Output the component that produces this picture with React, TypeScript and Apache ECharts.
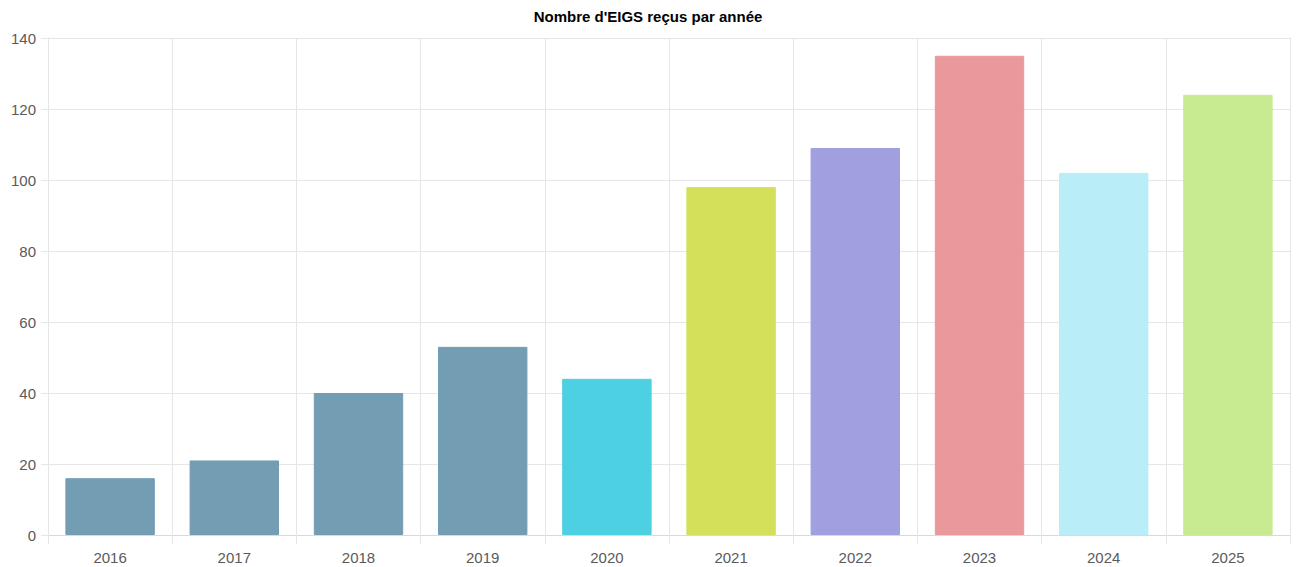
import React, { useEffect, useRef } from "react";
import * as echarts from "echarts";

const title = "Nombre d'EIGS reçus par année";
const years = ["2016", "2017", "2018", "2019", "2020", "2021", "2022", "2023", "2024", "2025"];
const counts = [16, 21, 40, 53, 44, 98, 109, 135, 102, 124];
const barColors = [
  "#739db3",
  "#739db3",
  "#739db3",
  "#739db3",
  "#4dd0e1",
  "#d4e05a",
  "#a09fdf",
  "#e9989b",
  "#b9edf7",
  "#c8eb91",
];

export default function App() {
  const ref = useRef<HTMLDivElement>(null);
  useEffect(() => {
    if (!ref.current) return;
    const chart = echarts.init(ref.current, undefined, { renderer: "svg" });
    const gridColor = "#e6e6e6";
    const font = "Liberation Sans, Arial, sans-serif";
    chart.setOption({
      animation: false,
      title: {
        text: title,
        left: "center",
        top: 4,
        textStyle: { fontFamily: font, fontSize: 15, fontWeight: "bold", color: "#000" },
      },
      grid: { left: 48, right: 6, top: 38, bottom: 32, containLabel: false },
      xAxis: {
        type: "category",
        data: years,
        boundaryGap: true,
        axisLine: { show: true, lineStyle: { color: "#d9d9d9", width: 1 } },
        axisTick: { show: true, length: 9, lineStyle: { color: gridColor } },
        splitLine: { show: true, lineStyle: { color: gridColor, width: 1 } },
        axisLabel: { color: "#5a5a5a", fontFamily: font, fontSize: 15, margin: 15 },
      },
      yAxis: {
        type: "value",
        min: 0,
        max: 140,
        interval: 20,
        axisLine: { show: true, lineStyle: { color: gridColor, width: 1 } },
        axisTick: { show: true, length: 7, lineStyle: { color: gridColor } },
        splitLine: { show: true, lineStyle: { color: gridColor, width: 1 } },
        axisLabel: { color: "#5a5a5a", fontFamily: font, fontSize: 15, margin: 12 },
      },
      series: [
        {
          type: "bar",
          data: counts.map((v, i) => ({
            value: v,
            itemStyle: { color: barColors[i], borderColor: barColors[i], borderWidth: 1 },
          })),
          barWidth: "72%",
        },
      ],
    });
    return () => chart.dispose();
  }, []);
  return (
    <div
      ref={ref}
      style={{ position: "fixed", left: 0, top: 0, width: 1296, height: 567, background: "#fff" }}
    />
  );
}
